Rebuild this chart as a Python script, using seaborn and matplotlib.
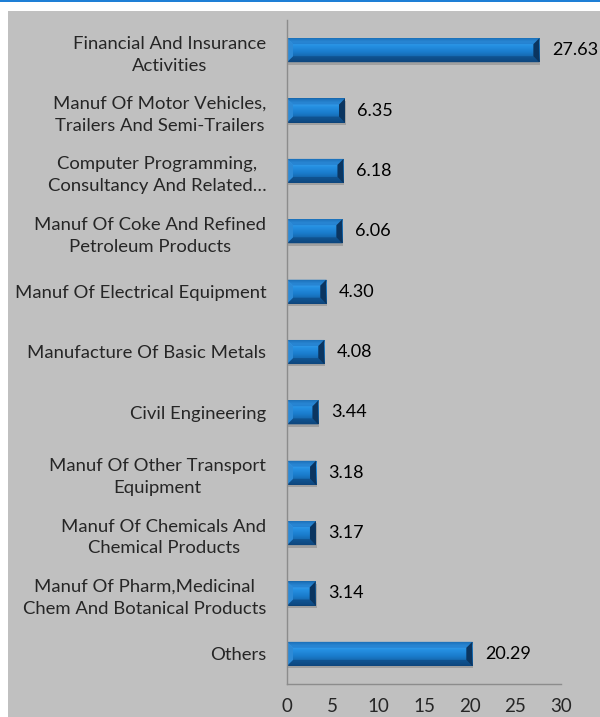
import numpy as np
import pandas as pd
import matplotlib
matplotlib.use("Agg")
import matplotlib.pyplot as plt
import seaborn as sns
from matplotlib.patches import Polygon, Rectangle
from matplotlib.colors import LinearSegmentedColormap

categories = [
    "Financial And Insurance\nActivities",
    "Manuf Of Motor Vehicles,\nTrailers And Semi-Trailers",
    "Computer Programming,\nConsultancy And Related…",
    "Manuf Of Coke And Refined\nPetroleum Products",
    "Manuf Of Electrical Equipment",
    "Manufacture Of Basic Metals",
    "Civil Engineering",
    "Manuf Of Other Transport\nEquipment",
    "Manuf Of Chemicals And\nChemical Products",
    "Manuf Of Pharm,Medicinal\nChem And Botanical Products",
    "Others",
]
values = [27.63, 6.35, 6.18, 6.06, 4.30, 4.08, 3.44, 3.18, 3.17, 3.14, 20.29]
value_labels = ["27.63", "6.35", "6.18", "6.06", "4.30", "4.08", "3.44", "3.18", "3.17", "3.14", "20.29"]
xticks = [0, 5, 10, 15, 20, 25, 30]

df = pd.DataFrame({"category": categories, "value": values})

sns.set_style("white")
plt.rcParams["font.family"] = ["Lato", "DejaVu Sans"]

W, H = 600, 717
fig = plt.figure(figsize=(W / 100, H / 100), dpi=100)
fig.patch.set_facecolor("white")
# gray panel and blue top line
fig.add_artist(Rectangle((8 / W, 0), 1 - 8 / W, 1 - 11 / H, transform=fig.transFigure,
                         facecolor="#c0c0c0", edgecolor="none", zorder=0))
fig.add_artist(Rectangle((0, 1 - 2 / H), 1, 2 / H, transform=fig.transFigure,
                         facecolor="#1e7fd6", edgecolor="none", zorder=0))

ax = fig.add_axes([287 / W, 1 - 684 / H, 274 / W, 664 / H])
ax.set_facecolor("none")

sns.barplot(data=df, x="value", y="category", orient="h", ax=ax,
            color="#1a7fd2", width=0.4, saturation=1, edgecolor="none")

ax.set_xlim(0, 30)
ax.set_ylim(10.5, -0.5)
ax.set_xticks(xticks)
ax.set_xticklabels([str(t) for t in xticks], fontsize=13.5)
ax.set_xlabel("")
ax.set_ylabel("")
ax.set_yticks(range(len(categories)))
ax.set_yticklabels(categories, fontsize=13.3, multialignment="center", linespacing=1.45)
ax.tick_params(axis="y", length=0, pad=15)
# category boundary ticks on y axis
ax.set_yticks(np.arange(-0.5, len(categories), 1.0), minor=True)
ax.tick_params(axis="y", which="minor", length=6, color="#8c8c8c", width=1, direction="out")
ax.tick_params(axis="x", length=6, color="#8c8c8c", width=1, direction="out", pad=4)

for s in ["top", "right"]:
    ax.spines[s].set_visible(False)
for s in ["left", "bottom"]:
    ax.spines[s].set_color("#8c8c8c")
    ax.spines[s].set_linewidth(1)

cmap = LinearSegmentedColormap.from_list(
    "bar", [(0.0, "#15609f"), (0.18, "#3da2ee"), (0.35, "#2590e2"),
            (0.6, "#1a7ccc"), (0.82, "#1464a8"), (1.0, "#0c3f70")])
grad = np.linspace(0, 1, 64).reshape(-1, 1)

bx = 6 * 30 / 274   # bevel in data x units
by = 6 / 60.4       # bevel in data y units

for p in list(ax.patches):
    x0, y0 = p.get_x(), p.get_y()
    w, h = p.get_width(), p.get_height()
    x1, y1 = x0 + w, y0 + h
    # shadow
    sh = Rectangle((x0 + 0.1, y0 + 0.04), w, h, facecolor="#7a7a7a", alpha=0.45,
                   edgecolor="none", zorder=1.5)
    ax.add_patch(sh)
    p.set_zorder(2)
    im = ax.imshow(grad, cmap=cmap, aspect="auto", extent=(x0, x1, y1, y0),
                   zorder=2.1, interpolation="bilinear")
    im.set_clip_path(p)
    # bevel facets
    left = Polygon([(x0, y0), (x0 + bx, y0 + by), (x0 + bx, y1 - by), (x0, y1)],
                   closed=True, facecolor="#2d8ad6", edgecolor="none", zorder=2.3)
    right = Polygon([(x1, y0), (x1 - bx, y0 + by), (x1 - bx, y1 - by), (x1, y1)],
                    closed=True, facecolor="#0b3560", edgecolor="none", zorder=2.3)
    top = Polygon([(x0, y0), (x1, y0), (x1 - bx, y0 + by), (x0 + bx, y0 + by)],
                  closed=True, facecolor="#1c74c2", alpha=0.6, edgecolor="none", zorder=2.2)
    bot = Polygon([(x0, y1), (x1, y1), (x1 - bx, y1 - by), (x0 + bx, y1 - by)],
                  closed=True, facecolor="#0e4a84", alpha=0.7, edgecolor="none", zorder=2.2)
    for poly in (left, right, top, bot):
        ax.add_patch(poly)

for i, (v, lab) in enumerate(zip(values, value_labels)):
    ax.annotate(lab, xy=(v, i), xytext=(9, 0), textcoords="offset points",
                ha="left", va="center", fontsize=13, color="black")

fig.savefig("out.png", dpi=100, facecolor=fig.get_facecolor())
